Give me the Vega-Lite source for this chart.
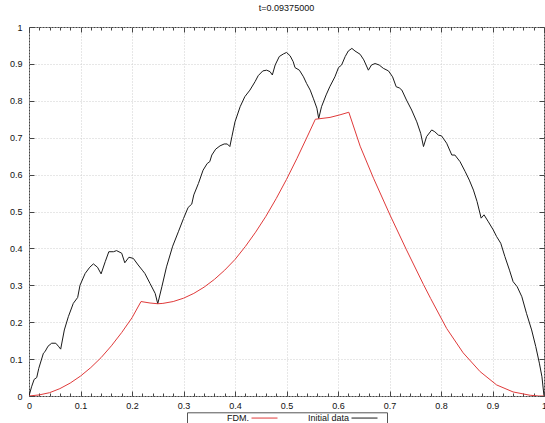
{
  "$schema": "https://vega.github.io/schema/vega-lite/v6.json",
  "width": 515,
  "height": 369,
  "autosize": {"type": "none"},
  "padding": {"left": 29, "top": 27, "right": 1, "bottom": 27},
  "background": "white",
  "title": {"text": "t=0.09375000", "fontSize": 9, "font": "Liberation Sans", "fontWeight": "normal", "color": "#111", "offset": 10, "anchor": "middle"},
  "config": {
    "font": "Liberation Sans",
    "view": {"stroke": "#444", "strokeWidth": 1},
    "axis": {"labelFont": "Liberation Sans", "labelFontSize": 9, "labelColor": "#111", "domain": false, "tickColor": "#444", "gridColor": "#cfcfcf", "gridDash": [1, 2], "gridWidth": 1, "title": null}
  },
  "data": {"values": [
    {"x": 0, "y": 0, "s": "Initial data"},
    {"x": 0.005, "y": 0.025, "s": "Initial data"},
    {"x": 0.01, "y": 0.045, "s": "Initial data"},
    {"x": 0.015, "y": 0.05, "s": "Initial data"},
    {"x": 0.019, "y": 0.075, "s": "Initial data"},
    {"x": 0.028, "y": 0.116, "s": "Initial data"},
    {"x": 0.031, "y": 0.12, "s": "Initial data"},
    {"x": 0.037, "y": 0.135, "s": "Initial data"},
    {"x": 0.044, "y": 0.143, "s": "Initial data"},
    {"x": 0.052, "y": 0.143, "s": "Initial data"},
    {"x": 0.057, "y": 0.135, "s": "Initial data"},
    {"x": 0.0615, "y": 0.127, "s": "Initial data"},
    {"x": 0.0686, "y": 0.179, "s": "Initial data"},
    {"x": 0.0764, "y": 0.215, "s": "Initial data"},
    {"x": 0.086, "y": 0.251, "s": "Initial data"},
    {"x": 0.0945, "y": 0.267, "s": "Initial data"},
    {"x": 0.099, "y": 0.3, "s": "Initial data"},
    {"x": 0.109, "y": 0.332, "s": "Initial data"},
    {"x": 0.118, "y": 0.349, "s": "Initial data"},
    {"x": 0.125, "y": 0.358, "s": "Initial data"},
    {"x": 0.133, "y": 0.349, "s": "Initial data"},
    {"x": 0.14, "y": 0.331, "s": "Initial data"},
    {"x": 0.148, "y": 0.364, "s": "Initial data"},
    {"x": 0.155, "y": 0.391, "s": "Initial data"},
    {"x": 0.164, "y": 0.391, "s": "Initial data"},
    {"x": 0.17, "y": 0.394, "s": "Initial data"},
    {"x": 0.18, "y": 0.387, "s": "Initial data"},
    {"x": 0.186, "y": 0.361, "s": "Initial data"},
    {"x": 0.194, "y": 0.376, "s": "Initial data"},
    {"x": 0.2025, "y": 0.373, "s": "Initial data"},
    {"x": 0.212, "y": 0.355, "s": "Initial data"},
    {"x": 0.22, "y": 0.341, "s": "Initial data"},
    {"x": 0.225, "y": 0.332, "s": "Initial data"},
    {"x": 0.235, "y": 0.305, "s": "Initial data"},
    {"x": 0.245, "y": 0.278, "s": "Initial data"},
    {"x": 0.25, "y": 0.25, "s": "Initial data"},
    {"x": 0.258, "y": 0.296, "s": "Initial data"},
    {"x": 0.267, "y": 0.35, "s": "Initial data"},
    {"x": 0.279, "y": 0.406, "s": "Initial data"},
    {"x": 0.29, "y": 0.445, "s": "Initial data"},
    {"x": 0.3, "y": 0.481, "s": "Initial data"},
    {"x": 0.309, "y": 0.511, "s": "Initial data"},
    {"x": 0.316, "y": 0.52, "s": "Initial data"},
    {"x": 0.32, "y": 0.545, "s": "Initial data"},
    {"x": 0.329, "y": 0.576, "s": "Initial data"},
    {"x": 0.338, "y": 0.612, "s": "Initial data"},
    {"x": 0.346, "y": 0.63, "s": "Initial data"},
    {"x": 0.351, "y": 0.635, "s": "Initial data"},
    {"x": 0.355, "y": 0.653, "s": "Initial data"},
    {"x": 0.3625, "y": 0.669, "s": "Initial data"},
    {"x": 0.371, "y": 0.678, "s": "Initial data"},
    {"x": 0.379, "y": 0.683, "s": "Initial data"},
    {"x": 0.385, "y": 0.683, "s": "Initial data"},
    {"x": 0.39, "y": 0.676, "s": "Initial data"},
    {"x": 0.394, "y": 0.703, "s": "Initial data"},
    {"x": 0.4, "y": 0.743, "s": "Initial data"},
    {"x": 0.41, "y": 0.784, "s": "Initial data"},
    {"x": 0.419, "y": 0.811, "s": "Initial data"},
    {"x": 0.429, "y": 0.829, "s": "Initial data"},
    {"x": 0.439, "y": 0.852, "s": "Initial data"},
    {"x": 0.445, "y": 0.868, "s": "Initial data"},
    {"x": 0.454, "y": 0.881, "s": "Initial data"},
    {"x": 0.4615, "y": 0.883, "s": "Initial data"},
    {"x": 0.468, "y": 0.879, "s": "Initial data"},
    {"x": 0.4725, "y": 0.87, "s": "Initial data"},
    {"x": 0.478, "y": 0.897, "s": "Initial data"},
    {"x": 0.486, "y": 0.92, "s": "Initial data"},
    {"x": 0.494, "y": 0.927, "s": "Initial data"},
    {"x": 0.5, "y": 0.931, "s": "Initial data"},
    {"x": 0.507, "y": 0.922, "s": "Initial data"},
    {"x": 0.513, "y": 0.906, "s": "Initial data"},
    {"x": 0.5165, "y": 0.89, "s": "Initial data"},
    {"x": 0.525, "y": 0.883, "s": "Initial data"},
    {"x": 0.533, "y": 0.865, "s": "Initial data"},
    {"x": 0.539, "y": 0.847, "s": "Initial data"},
    {"x": 0.546, "y": 0.829, "s": "Initial data"},
    {"x": 0.552, "y": 0.807, "s": "Initial data"},
    {"x": 0.559, "y": 0.78, "s": "Initial data"},
    {"x": 0.5625, "y": 0.752, "s": "Initial data"},
    {"x": 0.568, "y": 0.784, "s": "Initial data"},
    {"x": 0.577, "y": 0.816, "s": "Initial data"},
    {"x": 0.584, "y": 0.838, "s": "Initial data"},
    {"x": 0.594, "y": 0.865, "s": "Initial data"},
    {"x": 0.601, "y": 0.89, "s": "Initial data"},
    {"x": 0.607, "y": 0.897, "s": "Initial data"},
    {"x": 0.614, "y": 0.92, "s": "Initial data"},
    {"x": 0.62, "y": 0.935, "s": "Initial data"},
    {"x": 0.627, "y": 0.942, "s": "Initial data"},
    {"x": 0.633, "y": 0.935, "s": "Initial data"},
    {"x": 0.643, "y": 0.926, "s": "Initial data"},
    {"x": 0.65, "y": 0.911, "s": "Initial data"},
    {"x": 0.659, "y": 0.883, "s": "Initial data"},
    {"x": 0.665, "y": 0.897, "s": "Initial data"},
    {"x": 0.672, "y": 0.901, "s": "Initial data"},
    {"x": 0.68, "y": 0.897, "s": "Initial data"},
    {"x": 0.688, "y": 0.888, "s": "Initial data"},
    {"x": 0.698, "y": 0.881, "s": "Initial data"},
    {"x": 0.706, "y": 0.865, "s": "Initial data"},
    {"x": 0.713, "y": 0.838, "s": "Initial data"},
    {"x": 0.719, "y": 0.835, "s": "Initial data"},
    {"x": 0.724, "y": 0.829, "s": "Initial data"},
    {"x": 0.733, "y": 0.802, "s": "Initial data"},
    {"x": 0.743, "y": 0.775, "s": "Initial data"},
    {"x": 0.753, "y": 0.743, "s": "Initial data"},
    {"x": 0.7605, "y": 0.712, "s": "Initial data"},
    {"x": 0.766, "y": 0.676, "s": "Initial data"},
    {"x": 0.772, "y": 0.703, "s": "Initial data"},
    {"x": 0.782, "y": 0.721, "s": "Initial data"},
    {"x": 0.788, "y": 0.716, "s": "Initial data"},
    {"x": 0.795, "y": 0.707, "s": "Initial data"},
    {"x": 0.801, "y": 0.705, "s": "Initial data"},
    {"x": 0.811, "y": 0.685, "s": "Initial data"},
    {"x": 0.821, "y": 0.653, "s": "Initial data"},
    {"x": 0.827, "y": 0.653, "s": "Initial data"},
    {"x": 0.837, "y": 0.635, "s": "Initial data"},
    {"x": 0.847, "y": 0.608, "s": "Initial data"},
    {"x": 0.855, "y": 0.585, "s": "Initial data"},
    {"x": 0.863, "y": 0.558, "s": "Initial data"},
    {"x": 0.87, "y": 0.527, "s": "Initial data"},
    {"x": 0.878, "y": 0.482, "s": "Initial data"},
    {"x": 0.8835, "y": 0.491, "s": "Initial data"},
    {"x": 0.892, "y": 0.472, "s": "Initial data"},
    {"x": 0.9015, "y": 0.45, "s": "Initial data"},
    {"x": 0.908, "y": 0.432, "s": "Initial data"},
    {"x": 0.916, "y": 0.414, "s": "Initial data"},
    {"x": 0.924, "y": 0.378, "s": "Initial data"},
    {"x": 0.933, "y": 0.341, "s": "Initial data"},
    {"x": 0.94, "y": 0.31, "s": "Initial data"},
    {"x": 0.948, "y": 0.296, "s": "Initial data"},
    {"x": 0.957, "y": 0.269, "s": "Initial data"},
    {"x": 0.966, "y": 0.224, "s": "Initial data"},
    {"x": 0.976, "y": 0.179, "s": "Initial data"},
    {"x": 0.984, "y": 0.134, "s": "Initial data"},
    {"x": 0.991, "y": 0.089, "s": "Initial data"},
    {"x": 0.996, "y": 0.052, "s": "Initial data"},
    {"x": 1, "y": 0, "s": "Initial data"},
    {"x": 0, "y": 0, "s": "FDM."},
    {"x": 0.02, "y": 0.003, "s": "FDM."},
    {"x": 0.04, "y": 0.009, "s": "FDM."},
    {"x": 0.06, "y": 0.02, "s": "FDM."},
    {"x": 0.08, "y": 0.035, "s": "FDM."},
    {"x": 0.1, "y": 0.054, "s": "FDM."},
    {"x": 0.12, "y": 0.077, "s": "FDM."},
    {"x": 0.14, "y": 0.104, "s": "FDM."},
    {"x": 0.16, "y": 0.136, "s": "FDM."},
    {"x": 0.18, "y": 0.172, "s": "FDM."},
    {"x": 0.2, "y": 0.212, "s": "FDM."},
    {"x": 0.2175, "y": 0.256, "s": "FDM."},
    {"x": 0.235, "y": 0.252, "s": "FDM."},
    {"x": 0.25, "y": 0.25, "s": "FDM."},
    {"x": 0.26, "y": 0.251, "s": "FDM."},
    {"x": 0.28, "y": 0.256, "s": "FDM."},
    {"x": 0.3, "y": 0.265, "s": "FDM."},
    {"x": 0.32, "y": 0.278, "s": "FDM."},
    {"x": 0.34, "y": 0.295, "s": "FDM."},
    {"x": 0.36, "y": 0.316, "s": "FDM."},
    {"x": 0.38, "y": 0.341, "s": "FDM."},
    {"x": 0.4, "y": 0.37, "s": "FDM."},
    {"x": 0.42, "y": 0.405, "s": "FDM."},
    {"x": 0.44, "y": 0.444, "s": "FDM."},
    {"x": 0.46, "y": 0.487, "s": "FDM."},
    {"x": 0.48, "y": 0.535, "s": "FDM."},
    {"x": 0.5, "y": 0.587, "s": "FDM."},
    {"x": 0.52, "y": 0.643, "s": "FDM."},
    {"x": 0.54, "y": 0.702, "s": "FDM."},
    {"x": 0.556, "y": 0.75, "s": "FDM."},
    {"x": 0.5845, "y": 0.755, "s": "FDM."},
    {"x": 0.604, "y": 0.762, "s": "FDM."},
    {"x": 0.621, "y": 0.769, "s": "FDM."},
    {"x": 0.643, "y": 0.677, "s": "FDM."},
    {"x": 0.669, "y": 0.59, "s": "FDM."},
    {"x": 0.701, "y": 0.4905, "s": "FDM."},
    {"x": 0.733, "y": 0.396, "s": "FDM."},
    {"x": 0.766, "y": 0.302, "s": "FDM."},
    {"x": 0.78, "y": 0.264, "s": "FDM."},
    {"x": 0.811, "y": 0.183, "s": "FDM."},
    {"x": 0.843, "y": 0.117, "s": "FDM."},
    {"x": 0.876, "y": 0.066, "s": "FDM."},
    {"x": 0.908, "y": 0.03, "s": "FDM."},
    {"x": 0.94, "y": 0.011, "s": "FDM."},
    {"x": 0.973, "y": 0.002, "s": "FDM."},
    {"x": 0.99, "y": 0, "s": "FDM."},
    {"x": 1, "y": 0, "s": "FDM."}
  ]},
  "layer": [
    {
      "mark": {"type": "line", "strokeWidth": 1, "clip": true},
      "encoding": {
        "x": {"field": "x", "type": "quantitative", "scale": {"domain": [0, 1], "nice": false, "zero": false},
          "axis": {"orient": "bottom",
            "values": [0,0.02,0.04,0.06,0.08,0.1,0.12,0.14,0.16,0.18,0.2,0.22,0.24,0.26,0.28,0.3,0.32,0.34,0.36,0.38,0.4,0.42,0.44,0.46,0.48,0.5,0.52,0.54,0.56,0.58,0.6,0.62,0.64,0.66,0.68,0.7,0.72,0.74,0.76,0.78,0.8,0.82,0.84,0.86,0.88,0.9,0.92,0.94,0.96,0.98,1],
            "labelExpr": "abs(datum.value*10 - round(datum.value*10)) < 0.001 ? format(datum.value, '~g') : ''",
            "tickSize": {"condition": {"test": "abs(datum.value*10 - round(datum.value*10)) < 0.001", "value": -5}, "value": -3},
            "gridOpacity": {"condition": {"test": "abs(datum.value*10 - round(datum.value*10)) < 0.001", "value": 1}, "value": 0},
            "grid": true, "labelPadding": 10.5, "labelFlush": false, "labelOverlap": false}},
        "y": {"field": "y", "type": "quantitative", "scale": {"domain": [0, 1], "nice": false, "zero": false},
          "axis": {"orient": "left", "values": [0,0.1,0.2,0.3,0.4,0.5,0.6,0.7,0.8,0.9,1],
            "labelExpr": "format(datum.value, '~g')", "tickSize": -5, "labelPadding": 12, "grid": true, "labelFlush": false, "labelOverlap": false}},
        "color": {"field": "s", "type": "nominal", "scale": {"domain": ["FDM.", "Initial data"], "range": ["#e03a3a", "#1a1a1a"]},
          "legend": {"orient": "none", "legendX": 158, "legendY": 385.3, "direction": "horizontal",
            "title": "\u00a0", "titleOrient": "left", "titlePadding": 59, "titleFontSize": 9, "titleFont": "Liberation Sans",
            "symbolType": "M0,0H12M14.8,0", "symbolSize": 18.8, "symbolStrokeWidth": 1, "labelAlign": "right", "labelOffset": -7,
            "labelFontSize": 9, "labelFont": "Liberation Sans", "labelColor": "#111", "strokeColor": "#555", "padding": 1, "columnPadding": 21}}
      }
    },
    {
      "mark": {"type": "line", "strokeOpacity": 0},
      "encoding": {
        "x": {"field": "x", "type": "quantitative",
          "axis": {"orient": "top", "labels": false, "grid": false,
            "values": [0,0.02,0.04,0.06,0.08,0.1,0.12,0.14,0.16,0.18,0.2,0.22,0.24,0.26,0.28,0.3,0.32,0.34,0.36,0.38,0.4,0.42,0.44,0.46,0.48,0.5,0.52,0.54,0.56,0.58,0.6,0.62,0.64,0.66,0.68,0.7,0.72,0.74,0.76,0.78,0.8,0.82,0.84,0.86,0.88,0.9,0.92,0.94,0.96,0.98,1],
            "tickSize": {"condition": {"test": "abs(datum.value*10 - round(datum.value*10)) < 0.001", "value": -5}, "value": -3}}},
        "y": {"field": "y", "type": "quantitative",
          "axis": {"orient": "right", "labels": false, "grid": false, "values": [0,0.1,0.2,0.3,0.4,0.5,0.6,0.7,0.8,0.9,1], "tickSize": -5}}
      }
    }
  ],
  "resolve": {"axis": {"x": "independent", "y": "independent"}}
}
